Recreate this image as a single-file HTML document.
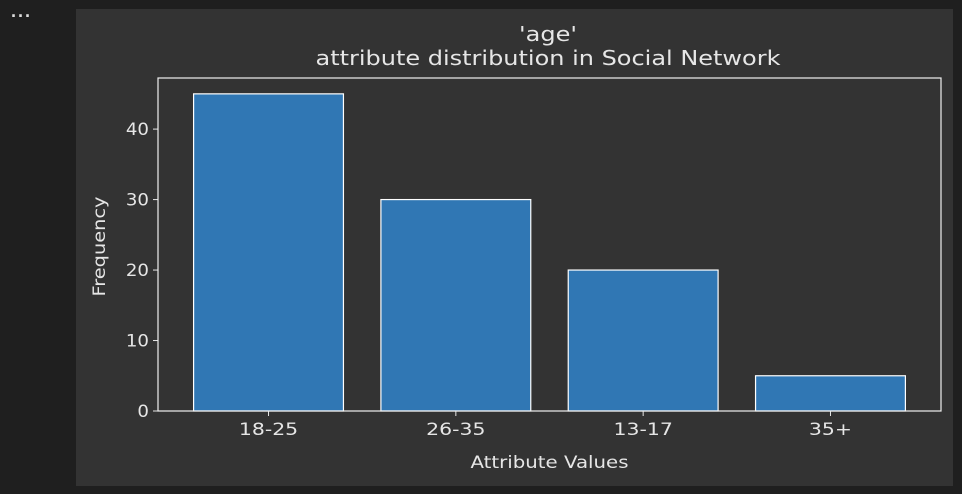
<!DOCTYPE html>
<html><head><meta charset="utf-8">
<style>
html,body{margin:0;padding:0;background:#1f1f1f;width:962px;height:494px;overflow:hidden;font-family:"Liberation Sans","DejaVu Sans",sans-serif;}
#dots{position:absolute;left:11px;top:6px;color:#ddd;font-size:18px;font-weight:bold;letter-spacing:1px;}
#panel{position:absolute;left:76px;top:9px;width:877px;height:477px;background:#333333;}
svg{position:absolute;left:0;top:0;}
text{fill:#e6e6e6;font-family:"DejaVu Sans","Liberation Sans",sans-serif;}
</style></head><body>
<div id="dots">···</div>
<div id="panel"></div>
<svg id="chart" width="962" height="494"></svg>
<script>
const categories = ["18-25","26-35","13-17","35+"];
const values = [45,30,20,5];
const yTicks = [0,10,20,30,40];

const L=158,R=941,T=78,B=411;
const yMax = Math.max(...values)*1.05;
const xMin=-0.59, xMax=categories.length-1+0.59;
const x = v => L + (v-xMin)/(xMax-xMin)*(R-L);
const y = v => B - v/yMax*(B-T);
const ns="http://www.w3.org/2000/svg";
const svg=document.getElementById('chart');
function mk(tag,attrs){const e=document.createElementNS(ns,tag);for(const k in attrs)e.setAttribute(k,attrs[k]);svg.appendChild(e);return e;}
function fit(t,W){const w=t.getComputedTextLength();t.setAttribute('textLength',w*W);t.setAttribute('lengthAdjust','spacingAndGlyphs');}

const bw = (x(0.4)-x(-0.4));
categories.forEach((c,i)=>{
  const b=mk('rect',{x:x(i)-bw/2,y:y(values[i]),width:bw,height:y(0)-y(values[i]),fill:'#3077b4',stroke:'#ffffff','stroke-width':1.2});
  
  
  const t=mk('line',{x1:x(i),x2:x(i),y1:B,y2:B+5,stroke:'#e6e6e6','stroke-width':1});
  
  
  const l=mk('text',{x:x(i),y:B+24,'text-anchor':'middle','font-size':17});
  l.textContent=c;
  
  
  fit(l,1.2);
});
yTicks.forEach(v=>{
  const t=mk('line',{x1:L-5,x2:L,y1:y(v),y2:y(v),stroke:'#e6e6e6','stroke-width':1});
  
  
  const l=mk('text',{x:L-9,y:y(v)+6,'text-anchor':'end','font-size':16.5});
  l.textContent=v;
  
  
  fit(l,1.1);
});
const frame=mk('rect',{x:L,y:T,width:R-L,height:B-T,fill:'none',stroke:'#f0f0f0','stroke-width':1.2});



const cx=548;
const t1=mk('text',{x:cx,y:41,'text-anchor':'middle','font-size':20});
t1.textContent="'age'";


fit(t1,1.2);
const t2=mk('text',{x:cx,y:65,'text-anchor':'middle','font-size':20});
t2.textContent="attribute distribution in Social Network";


t2.setAttribute('textLength',465);t2.setAttribute('lengthAdjust','spacingAndGlyphs');
const xt=mk('text',{x:(L+R)/2,y:468,'text-anchor':'middle','font-size':17});
xt.textContent="Attribute Values";


xt.setAttribute('textLength',158);xt.setAttribute('lengthAdjust','spacingAndGlyphs');
const yt=mk('text',{x:0,y:0,'text-anchor':'middle','font-size':17,transform:'translate(105,'+((T+B)/2+2)+') rotate(-90)'});
yt.textContent="Frequency";


yt.setAttribute('textLength',100);yt.setAttribute('lengthAdjust','spacingAndGlyphs');
</script>
</body></html>
